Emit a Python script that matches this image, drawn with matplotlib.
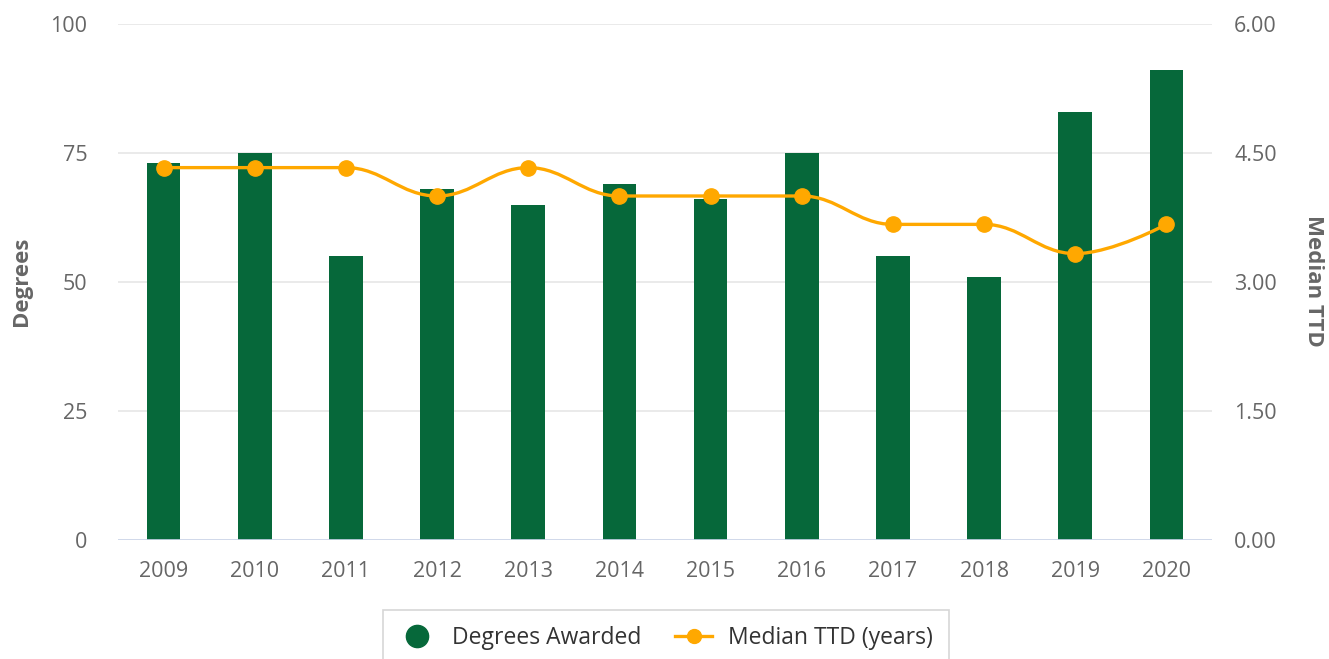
import numpy as np
from matplotlib import pyplot as plt
from matplotlib.path import Path
from matplotlib.patches import PathPatch
from matplotlib.lines import Line2D

years = ["2009", "2010", "2011", "2012", "2013", "2014",
         "2015", "2016", "2017", "2018", "2019", "2020"]
degrees = [73, 75, 55, 68, 65, 69, 66, 75, 55, 51, 83, 91]
median_ttd = [4.33, 4.33, 4.33, 4.0, 4.33, 4.0, 4.0, 4.0, 3.67, 3.67, 3.33, 3.67]

GREEN = "#06683A"
ORANGE = "#FFA800"
GRAY = "#666666"

plt.rcParams["font.family"] = ["Open Sans", "DejaVu Sans"]


def spline_path(xs, ys, smoothing=1.5):
    # highcharts-style spline: bezier controls from neighbours
    n = len(xs)
    left = [None] * n
    right = [None] * n
    denom = smoothing + 1
    for i in range(n):
        x, y = xs[i], ys[i]
        if i == 0 or i == n - 1:
            left[i] = (x, y)
            right[i] = (x, y)
            continue
        lx, ly = xs[i - 1], ys[i - 1]
        nx, ny = xs[i + 1], ys[i + 1]
        lcx = (smoothing * x + lx) / denom
        lcy = (smoothing * y + ly) / denom
        rcx = (smoothing * x + nx) / denom
        rcy = (smoothing * y + ny) / denom
        if rcx != lcx:
            corr = ((rcy - lcy) * (rcx - x)) / (rcx - lcx) + y - rcy
            lcy += corr
            rcy += corr
        if lcy > ly and lcy > y:
            lcy = max(ly, y)
            rcy = 2 * y - lcy
        elif lcy < ly and lcy < y:
            lcy = min(ly, y)
            rcy = 2 * y - lcy
        if rcy > ny and rcy > y:
            rcy = max(ny, y)
            lcy = 2 * y - rcy
        elif rcy < ny and rcy < y:
            rcy = min(ny, y)
            lcy = 2 * y - rcy
        left[i] = (lcx, lcy)
        right[i] = (rcx, rcy)
    verts = [(xs[0], ys[0])]
    codes = [Path.MOVETO]
    for i in range(1, n):
        verts += [right[i - 1], left[i], (xs[i], ys[i])]
        codes += [Path.CURVE4] * 3
    return Path(verts, codes)


fig = plt.figure(figsize=(13.29, 6.59), dpi=100)
ax = fig.add_axes([118 / 1329, 1 - 540 / 659, (1212 - 118) / 1329, (540 - 24) / 659])
ax2 = ax.twinx()

x = np.arange(len(years))
ax.bar(x, degrees, width=0.37, color=GREEN, zorder=2)
ax.set_xlim(-0.5, len(years) - 0.5)
ax.set_ylim(0, 100)
ax.set_yticks([0, 25, 50, 75, 100])
ax.set_xticks(x)
ax.set_xticklabels(years)
ax.grid(axis="y", color="#e6e6e6", linewidth=1.2, zorder=0)
ax.set_axisbelow(True)
ax.axhline(0, color="#ccd6eb", linewidth=1.2, zorder=3)

ax2.add_patch(PathPatch(spline_path(list(x), median_ttd), fill=False,
                        edgecolor=ORANGE, linewidth=2.4, zorder=3))
ax2.plot(x, median_ttd, linestyle="none", marker="o", markersize=11,
         color=ORANGE, zorder=4)
ax2.set_ylim(0, 6)
ax2.set_yticks([0, 1.5, 3, 4.5, 6])
ax2.set_yticklabels(["%.2f" % v for v in [0, 1.5, 3, 4.5, 6]])

for a in (ax, ax2):
    for s in a.spines.values():
        s.set_visible(False)
    a.tick_params(length=0, labelsize=15.5, labelcolor=GRAY)
ax.tick_params(axis="y", pad=22)
ax.tick_params(axis="x", pad=15)
ax2.tick_params(axis="y", pad=16)

fig.text(22 / 1329, 1 - 281 / 659, "Degrees", rotation=90, ha="center", va="center",
         fontsize=16, fontweight="bold", color=GRAY)
fig.text(1313 / 1329, 1 - 281 / 659, "Median TTD", rotation=270, ha="center", va="center",
         fontsize=16, fontweight="bold", color=GRAY)

handles = [
    Line2D([], [], linestyle="none", marker="o", markersize=16, color=GREEN),
    Line2D([], [], color=ORANGE, linewidth=2.4, marker="o", markersize=10),
]
leg = fig.legend(handles, ["Degrees Awarded", "Median TTD (years)"],
                 loc="upper center", bbox_to_anchor=(666 / 1329, 1 - 610 / 659),
                 ncol=2, frameon=True, fancybox=False, fontsize=16.5,
                 handlelength=1.6, columnspacing=1.5, borderpad=0.7,
                 handletextpad=0.7, borderaxespad=0)
leg.get_frame().set_edgecolor("#cccccc")
leg.get_frame().set_linewidth(1.2)
for t in leg.get_texts():
    t.set_color("#333333")

fig.savefig("out.png", dpi=100)
